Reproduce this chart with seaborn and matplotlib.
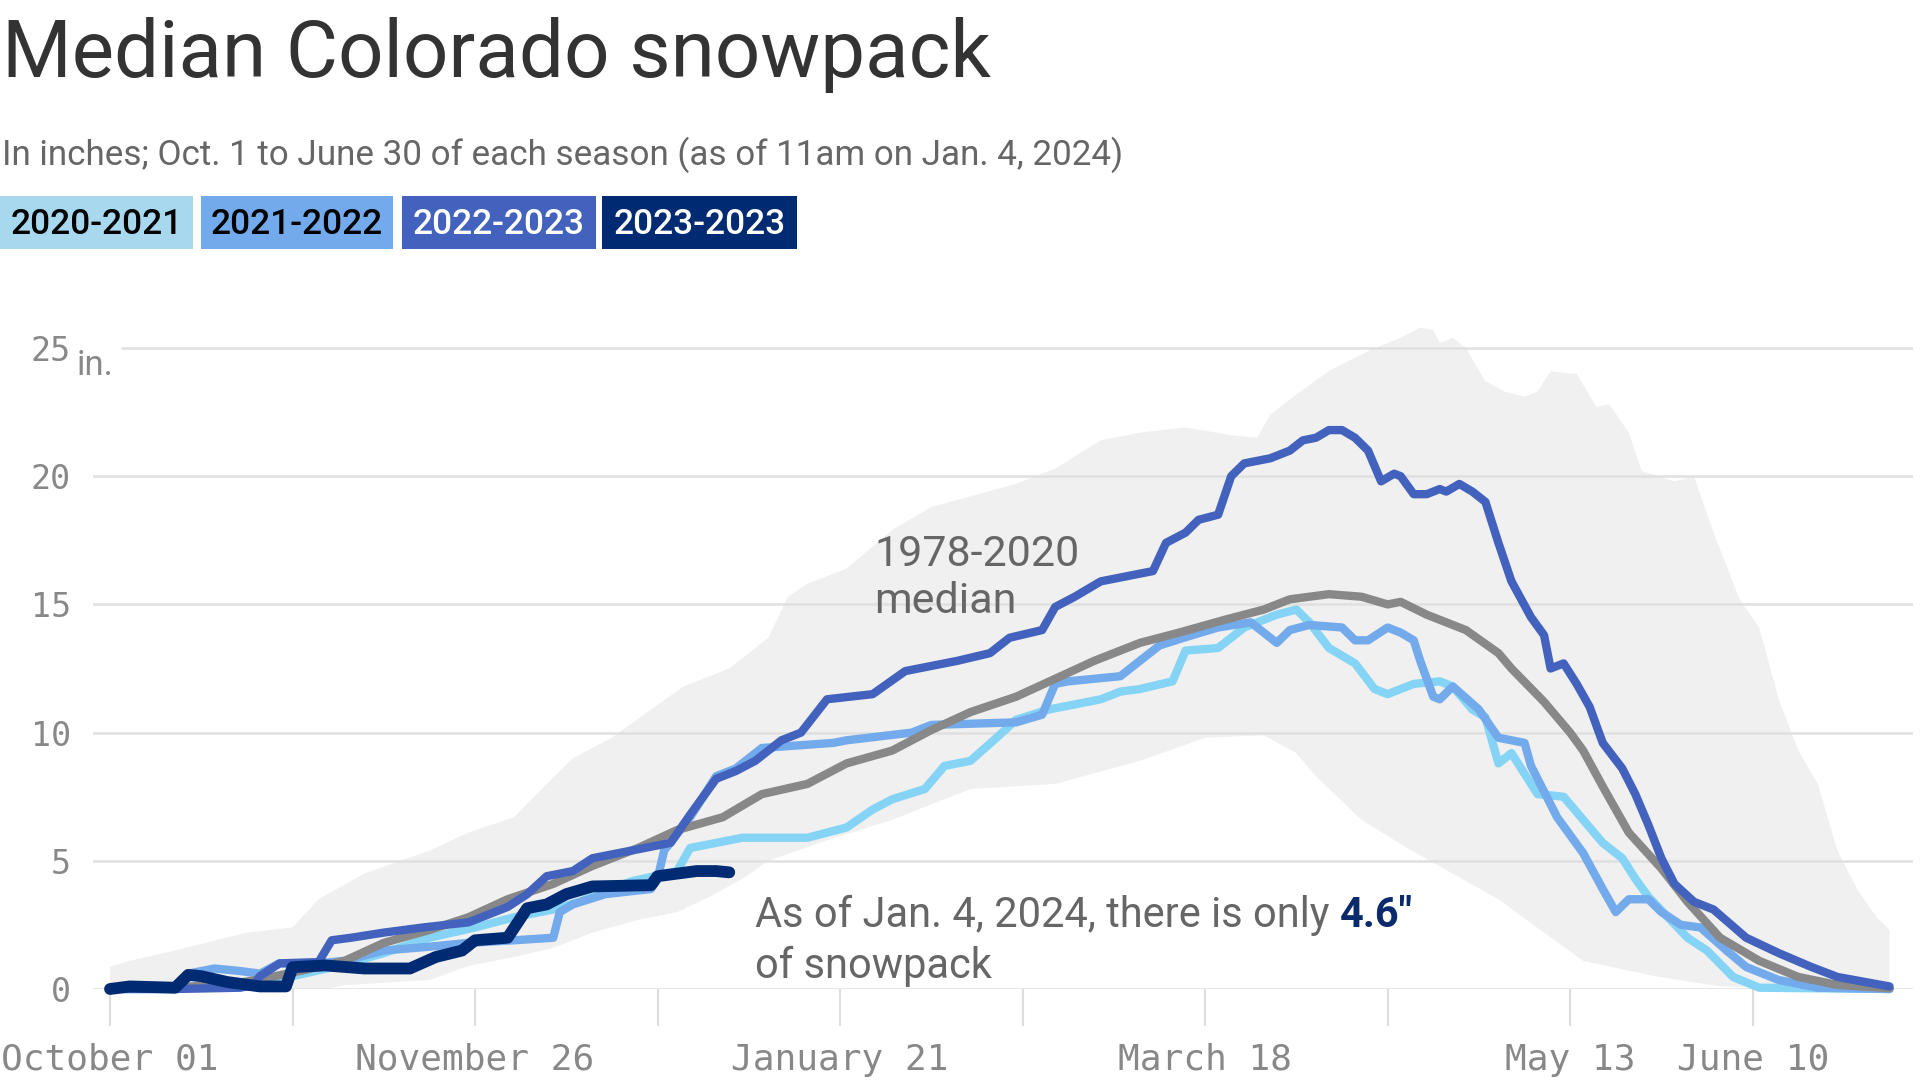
import numpy as np
import pandas as pd
import seaborn as sns
import matplotlib
matplotlib.use("Agg")
import matplotlib.pyplot as plt
from matplotlib.patches import Rectangle

sns.set_theme(style="white")
plt.rcParams["font.family"] = ["Roboto", "DejaVu Sans"]

# ---------------- data (day of season from Oct 1, inches) ----------------
median_days = [0, 10, 20, 24, 30, 36, 42, 49, 55, 61, 68, 74, 81, 87, 94, 100, 107, 113, 120, 126,
               132, 139, 145, 151, 158, 164, 171, 177, 181, 187, 192, 196, 198, 202, 208, 213, 215,
               220, 224, 226, 229, 233, 238, 242, 247, 253, 259, 265, 273]
median_vals = [0, 0.05, 0.25, 0.43, 0.75, 1.1, 1.8, 2.3, 2.8, 3.5, 4.1, 4.8, 5.5, 6.2, 6.7, 7.6, 8.0, 8.8,
               9.3, 10.1, 10.8, 11.4, 12.1, 12.8, 13.5, 13.9, 14.4, 14.8, 15.2, 15.4, 15.3, 15.0, 15.1,
               14.6, 14.0, 13.1, 12.5, 11.2, 10.0, 9.3, 7.9, 6.1, 4.7, 3.4, 2.0, 1.1, 0.47, 0.16, 0.03]

s2022_days = [0, 10, 20, 22, 23, 26, 32, 34, 37, 42, 48, 55, 61, 64, 67, 71, 74, 80, 86, 89, 93, 96, 99,
              103, 106, 110, 117, 122, 130, 135, 138, 143, 145, 148, 152, 160, 162, 165, 167, 170, 172,
              174, 178, 181, 183, 185, 187, 189, 191, 193, 195, 197, 198, 200, 202, 204, 205, 207, 209,
              211, 213, 215, 218, 220, 221, 223, 225, 227, 229, 232, 234, 236, 238, 240, 243, 246, 251,
              256, 261, 265, 273]
s2022_vals = [0, 0, 0.05, 0.15, 0.5, 1.0, 1.05, 1.9, 2.0, 2.2, 2.4, 2.6, 3.2, 3.7, 4.4, 4.6, 5.1, 5.4, 5.7,
              6.8, 8.2, 8.5, 8.9, 9.7, 10.0, 11.3, 11.5, 12.4, 12.8, 13.1, 13.7, 14.0, 14.9, 15.3, 15.9,
              16.3, 17.4, 17.8, 18.3, 18.5, 20.0, 20.5, 20.7, 21.0, 21.4, 21.5, 21.8, 21.8, 21.5, 21.0,
              19.8, 20.1, 20.0, 19.3, 19.3, 19.5, 19.4, 19.7, 19.4, 19.0, 17.4, 15.9, 14.5, 13.8, 12.5,
              12.7, 11.9, 11.0, 9.6, 8.6, 7.6, 6.4, 5.1, 4.1, 3.4, 3.1, 2.0, 1.4, 0.86, 0.47, 0.1]

s2021_days = [0, 10, 12, 16, 20, 23, 26, 32, 36, 42, 49, 55, 62, 68, 69, 71, 76, 83, 84, 85, 89, 93, 96,
              100, 111, 113, 123, 126, 139, 143, 145, 147, 155, 158, 161, 166, 170, 175, 179, 181, 184,
              189, 191, 193, 196, 198, 200, 201, 203, 204, 206, 210, 213, 215, 217, 218, 222, 226, 229,
              231, 233, 236, 238, 241, 244, 248, 251, 256, 262, 273]
s2021_vals = [0, 0, 0.6, 0.8, 0.7, 0.6, 1.0, 1.0, 1.1, 1.5, 1.65, 1.8, 1.9, 2.0, 3.0, 3.3, 3.7, 3.9, 4.3,
              5.4, 6.7, 8.3, 8.6, 9.4, 9.6, 9.7, 10.0, 10.3, 10.4, 10.7, 11.9, 12.0, 12.2, 12.8, 13.4,
              13.8, 14.1, 14.3, 13.5, 14.0, 14.2, 14.1, 13.6, 13.6, 14.1, 13.9, 13.6, 12.8, 11.4, 11.3,
              11.8, 10.9, 9.8, 9.7, 9.6, 8.7, 6.7, 5.3, 3.9, 3.0, 3.5, 3.5, 3.0, 2.5, 2.4, 1.5, 0.86,
              0.35, 0.05, 0.0]

s2020_days = [0, 20, 28, 35, 42, 49, 56, 62, 68, 72, 75, 80, 87, 89, 97, 107, 113, 117, 120, 125, 128,
              132, 136, 139, 144, 152, 155, 158, 163, 165, 170, 174, 179, 182, 184, 187, 191, 194, 196,
              200, 204, 206, 209, 211, 213, 215, 219, 223, 226, 229, 232, 234, 236, 239, 242, 245, 249,
              253, 273]
s2020_vals = [0, 0.1, 0.5, 0.9, 1.4, 2.0, 2.4, 2.8, 3.1, 3.4, 3.7, 4.2, 4.6, 5.5, 5.9, 5.9, 6.3, 7.0, 7.4,
              7.8, 8.7, 8.9, 9.8, 10.5, 10.9, 11.3, 11.6, 11.7, 12.0, 13.2, 13.3, 14.1, 14.6, 14.8, 14.3,
              13.3, 12.7, 11.7, 11.5, 11.9, 12.0, 11.8, 10.9, 10.6, 8.8, 9.2, 7.6, 7.5, 6.6, 5.7, 5.1,
              4.3, 3.6, 2.8, 2.0, 1.5, 0.47, 0.05, 0.0]

s2023_days = [0, 3, 10, 12, 14, 18, 23, 27, 28, 33, 39, 46, 50, 54, 56, 61, 64, 67, 70, 74, 83, 84, 90, 93, 95]
s2023_vals = [0, 0.1, 0.05, 0.55, 0.5, 0.27, 0.1, 0.1, 0.85, 0.92, 0.8, 0.8, 1.25, 1.5, 1.9, 2.0, 3.15,
              3.3, 3.7, 4.0, 4.05, 4.4, 4.6, 4.6, 4.55]

band_upper_days = [0, 3, 10, 21, 28, 32, 39, 49, 55, 62, 67, 71, 77, 83, 88, 95, 101, 104, 107, 113, 120,
                   126, 139, 145, 152, 158, 165, 172, 176, 178, 181, 187, 190, 194, 198, 201, 203, 204,
                   206, 208, 211, 214, 217, 219, 221, 224, 225, 228, 230, 233, 235, 240, 243, 246, 250,
                   253, 256, 259, 262, 265, 268, 271, 273]
band_upper = [0.86, 1.1, 1.5, 2.2, 2.4, 3.5, 4.5, 5.4, 6.1, 6.7, 8.0, 9.0, 9.8, 10.9, 11.8, 12.5, 13.7,
              15.3, 15.8, 16.4, 17.9, 18.8, 19.7, 20.3, 21.4, 21.7, 21.9, 21.6, 21.5, 22.4, 23.0, 24.1,
              24.5, 25.0, 25.4, 25.8, 25.7, 25.2, 25.4, 25.0, 23.7, 23.3, 23.1, 23.3, 24.1, 24.0, 24.0,
              22.7, 22.8, 21.7, 20.2, 19.8, 20.0, 17.8, 15.2, 14.1, 11.3, 9.3, 8.0, 5.4, 3.9, 2.8, 2.3]
band_lower_days = [0, 33, 36, 49, 55, 62, 68, 74, 81, 87, 92, 97, 101, 110, 120, 132, 145, 158, 168, 177,
                   182, 185, 192, 199, 206, 213, 220, 226, 237, 247, 273]
band_lower = [0, 0, 0.15, 0.35, 0.9, 1.25, 1.6, 2.2, 2.7, 3.0, 3.6, 4.3, 5.0, 5.8, 6.6, 7.8, 8.0, 8.9,
              9.8, 9.9, 9.2, 8.3, 6.6, 5.5, 4.5, 3.5, 2.2, 1.1, 0.5, 0.1, 0]

season_labels = ["2020-2021", "2021-2022", "2022-2023", "2023-2023"]
season_colors = ["#85d4f5", "#72aaeb", "#4262bd", "#002b72"]
legend_box_colors = ["#a8d8ee", "#72aaeb", "#4262bd", "#002b72"]
legend_text_colors = ["#000000", "#000000", "#ffffff", "#ffffff"]

x_ticks = [0, 28, 56, 84, 112, 140, 168, 196, 224, 252]
x_tick_labels = ["October 01", "", "November 26", "", "January 21", "", "March 18", "", "May 13", "June 10"]
y_ticks = [0, 5, 10, 15, 20, 25]

# ---------------- figure ----------------
W, H = 1920, 1080
fig = plt.figure(figsize=(W / 100, H / 100), dpi=100)
fig.patch.set_facecolor("white")
ax = fig.add_axes([93 / W, (H - 989) / H, 1820 / W, 0.6291])
ax.set_facecolor("white")
ax.set_xlim(-2.61, 276.6)
ax.set_ylim(0, 26.5)

# min/max band
ax.fill(list(band_upper_days) + list(band_lower_days[::-1]),
        list(band_upper) + list(band_lower[::-1]),
        color="#f0f0f0", lw=0, zorder=0.5)

# grid lines
for v in y_ticks:
    ax.axhline(v, xmin=(0.016 if v == 25 else 0), color="#e0e0e0", lw=1.8, zorder=1)

line_kw = dict(estimator=None, sort=False, solid_capstyle="round", solid_joinstyle="round", clip_on=False)
series = [
    (s2020_days, s2020_vals, season_colors[0], 6.0, 2),
    (s2021_days, s2021_vals, season_colors[1], 6.0, 3),
    (median_days, median_vals, "#888888", 6.0, 4),
    (s2022_days, s2022_vals, season_colors[2], 6.0, 5),
    (s2023_days, s2023_vals, season_colors[3], 8.5, 6),
]
for d, v, c, lw, z in series:
    df = pd.DataFrame({"day": d, "inches": v})
    sns.lineplot(data=df, x="day", y="inches", ax=ax, color=c, lw=lw, zorder=z, **line_kw)

ax.set_xlabel("")
ax.set_ylabel("")
for s in ax.spines.values():
    s.set_visible(False)

ax.set_xticks(x_ticks)
ax.set_xticklabels(x_tick_labels, fontfamily="DejaVu Sans Mono")
ax.tick_params(axis="x", length=26.6, width=1.5, color="#dddddd", pad=12, labelsize=26,
               labelcolor="#888888", direction="out", bottom=True)
ax.set_yticks(y_ticks)
ax.set_yticklabels([str(t) for t in y_ticks], fontfamily="DejaVu Sans Mono")
ax.tick_params(axis="y", length=0, pad=16, labelsize=24, labelcolor="#888888")

ax.annotate("in.", xy=(0, 25), xycoords=("axes fraction", "data"), xytext=(-12, -1),
            textcoords="offset points", ha="left", va="top", fontsize=25, color="#888888")

# annotations
ax.text(117.2, 17.75, "1978-2020\nmedian", ha="left", va="top", fontsize=31, color="#666666",
        linespacing=1.2, zorder=7)
t1 = ax.text(98.9, 2.42, "As of Jan. 4, 2024, there is only ", ha="left", va="baseline",
             fontsize=30, color="#666666", zorder=7)
ax.text(98.9, 0.43, "of snowpack", ha="left", va="baseline", fontsize=30, color="#666666", zorder=7)

# title, subtitle, legend
fig.text(0.001, 1 - 77 / H, "Median Colorado snowpack", fontsize=57.5, color="#333333", va="baseline")
fig.text(0.001, 1 - 165 / H, "In inches; Oct. 1 to June 30 of each season (as of 11am on Jan. 4, 2024)",
         fontsize=25.2, color="#666666", va="baseline")

box_x = [(0, 193), (201, 393), (402, 596), (602, 797)]
for (x0, x1), lab, bc, tc in zip(box_x, season_labels, legend_box_colors, legend_text_colors):
    fig.add_artist(Rectangle((x0 / W, 1 - 249 / H), (x1 - x0) / W, 53 / H, transform=fig.transFigure,
                             facecolor=bc, edgecolor="none"))
    fig.text((x0 + x1) / 2 / W, 1 - 225 / H, lab, ha="center", va="center", fontsize=25.5,
             color=tc, fontweight="medium")

renderer = fig.canvas.get_renderer()
bb = t1.get_window_extent(renderer=renderer)
y_base = ax.transData.transform((98.9, 2.42))[1]
fig.text(bb.x1 / W, y_base / H, "4.6\"", ha="left", va="baseline", fontsize=30, color="#0b2a6b",
         fontweight="bold")

fig.savefig("out.png", dpi=100, facecolor="white")
